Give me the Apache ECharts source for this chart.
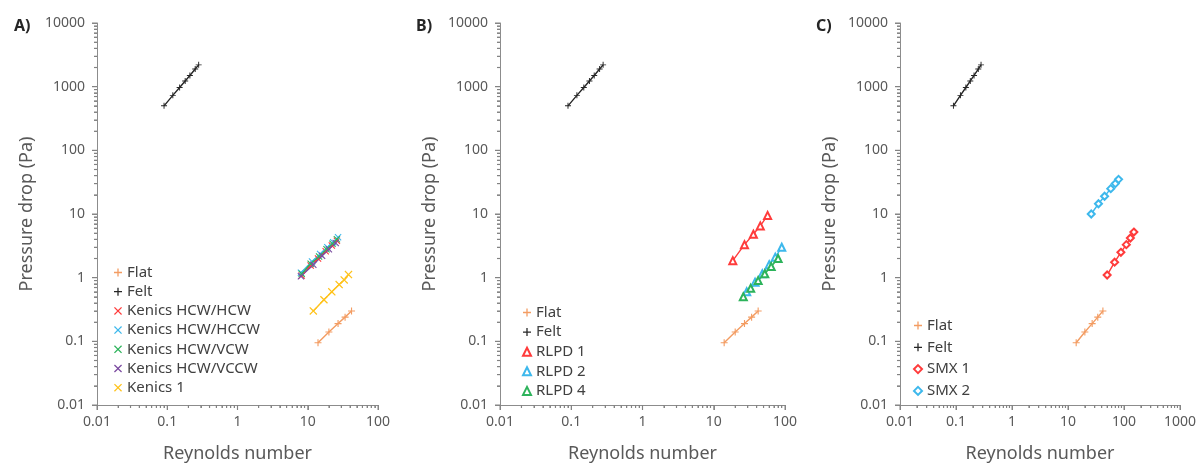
<!DOCTYPE html>
<html><head><meta charset="utf-8">
<script src="https://cdn.jsdelivr.net/npm/echarts@6/dist/echarts.min.js"></script>
<style>html,body{margin:0;padding:0;background:#fff}#c{width:1199px;height:464px}</style>
</head><body><div id="c"></div>
<script>
// ---- Data ----
const flatX = [14, 20, 27, 34, 42];
const flatY = [0.095, 0.14, 0.19, 0.24, 0.30];
const feltX = [0.09, 0.12, 0.15, 0.18, 0.21, 0.25, 0.28];
const feltY = [500, 730, 970, 1230, 1500, 1890, 2200];
const kHcwHcwX = [8.2, 11, 14, 18, 22, 26];
const kHcwHcwY = [1.08, 1.55, 2.0, 2.6, 3.2, 3.8];
const kHcwHccwX = [8, 11.5, 15, 19, 23, 27];
const kHcwHccwY = [1.2, 1.8, 2.35, 3.0, 3.6, 4.3];
const kHcwVcwX = [8.2, 11, 14.5, 18.5, 22.5, 26];
const kHcwVcwY = [1.15, 1.65, 2.15, 2.8, 3.4, 4.0];
const kHcwVccwX = [8, 12, 16, 20, 25];
const kHcwVccwY = [1.05, 1.6, 2.2, 2.8, 3.5];
const kenics1X = [12, 17, 22, 28, 33, 38];
const kenics1Y = [0.30, 0.45, 0.60, 0.78, 0.92, 1.12];
const rlpd1X = [18.5, 27, 36, 45, 57];
const rlpd1Y = [1.85, 3.3, 4.8, 6.5, 9.5];
const rlpd2X = [29, 38, 48, 60, 73, 90];
const rlpd2Y = [0.6, 0.85, 1.15, 1.6, 2.1, 3.0];
const rlpd4X = [26, 33, 42, 52, 64, 80];
const rlpd4Y = [0.5, 0.68, 0.9, 1.15, 1.5, 2.0];
const smx1X = [50, 68, 88, 110, 130, 150];
const smx1Y = [1.1, 1.75, 2.5, 3.3, 4.2, 5.2];
const smx2X = [26, 35, 45, 58, 70, 80];
const smx2Y = [10, 14.5, 19, 25, 30, 35];
const panelLabels = ['A)', 'B)', 'C)'];
const xMaxes = [100, 100, 1000];
const yMin = 0.01, yMax = 10000, xMin = 0.01;

// ---- Styling ----
const C = {flat:'#F39C62', felt:'#262626', red:'#FF3B3B', cyan:'#3DB8EC', green:'#2DB35B', purple:'#7B4BA0', yellow:'#FFC21A'};
const AX = '#8C8C8C';
const TK = '#7F7F7F';
const PLUS = 'path://M4.2,0H5.8V4.2H10V5.8H5.8V10H4.2V5.8H0V4.2H4.2Z';
const CROSS = 'path://M1.1,0L5,3.9L8.9,0L10,1.1L6.1,5L10,8.9L8.9,10L5,6.1L1.1,10L0,8.9L3.9,5L0,1.1Z';
const grids = [
  {left:97, top:23, width:281, height:382, outerBoundsMode:'none'},
  {left:500, top:23, width:285, height:382, outerBoundsMode:'none'},
  {left:900, top:23, width:280, height:382, outerBoundsMode:'none'}
];
const font = '"Noto Sans", "Open Sans", sans-serif';
const fmt = v => String(Number(Number(v).toPrecision(4)));

function zip(xs, ys){ return xs.map((x,i)=>[x, ys[i]]); }
function mk(name, xs, ys, color, symbol, size, g){
  const empty = symbol.indexOf('empty') === 0;
  return {
    type:'line', name, xAxisIndex:g, yAxisIndex:g, data:zip(xs, ys),
    symbol, symbolSize:size, showAllSymbol:true,
    lineStyle:{color, width:1.4},
    itemStyle: empty ? {color, borderColor:color, borderWidth:1} : {color, borderWidth:0},
    emphasis:{disabled:true}, animation:false, z:3
  };
}
// tick positions on a log axis: majors at powers of ten, minors at 2..9 x 10^k
function logTicks(lo, hi, minor){
  const out = [];
  const e0 = Math.round(Math.log10(lo)), e1 = Math.round(Math.log10(hi));
  for (let e = e0; e <= e1; e++) {
    if (!minor) out.push(Number(Math.pow(10, e).toPrecision(3)));
    else if (e < e1) for (let m = 2; m <= 9; m++) out.push(Number((m*Math.pow(10,e)).toPrecision(3)));
  }
  return out;
}
function tickSeries(g){
  const base = {type:'scatter', xAxisIndex:g, yAxisIndex:g, clip:false, symbol:'rect',
    itemStyle:{color:TK}, z:5, animation:false, emphasis:{disabled:true}, tooltip:{show:false}};
  const out = [];
  [[false, 5], [true, 3]].forEach(([minor, L]) => {
    out.push(Object.assign({}, base, {data:logTicks(xMin, xMaxes[g], minor).map(v=>[v, yMin]),
      symbolSize:[1.2, L], symbolOffset:[0, L/2]}));
    out.push(Object.assign({}, base, {data:logTicks(yMin, yMax, minor).map(v=>[xMin, v]),
      symbolSize:[L, 1.2], symbolOffset:[-L/2, 0]}));
  });
  return out;
}

const series = [
  mk('Flat', flatX, flatY, C.flat, PLUS, 7, 0),
  mk('Felt', feltX, feltY, C.felt, PLUS, 6, 0),
  mk('Kenics HCW/HCW', kHcwHcwX, kHcwHcwY, C.red, CROSS, 7, 0),
  mk('Kenics HCW/HCCW', kHcwHccwX, kHcwHccwY, C.cyan, CROSS, 7, 0),
  mk('Kenics HCW/VCW', kHcwVcwX, kHcwVcwY, C.green, CROSS, 7, 0),
  mk('Kenics HCW/VCCW', kHcwVccwX, kHcwVccwY, C.purple, CROSS, 7, 0),
  mk('Kenics 1', kenics1X, kenics1Y, C.yellow, CROSS, 8, 0),
  mk('Flat', flatX, flatY, C.flat, PLUS, 7, 1),
  mk('Felt', feltX, feltY, C.felt, PLUS, 6, 1),
  mk('RLPD 1', rlpd1X, rlpd1Y, C.red, 'emptyTriangle', 7, 1),
  mk('RLPD 2', rlpd2X, rlpd2Y, C.cyan, 'emptyTriangle', 7, 1),
  mk('RLPD 4', rlpd4X, rlpd4Y, C.green, 'emptyTriangle', 7, 1),
  mk('Flat', flatX, flatY, C.flat, PLUS, 7, 2),
  mk('Felt', feltX, feltY, C.felt, PLUS, 6, 2),
  mk('SMX 1', smx1X, smx1Y, C.red, 'emptyDiamond', 7, 2),
  mk('SMX 2', smx2X, smx2Y, C.cyan, 'emptyDiamond', 7, 2)
].concat(tickSeries(0), tickSeries(1), tickSeries(2));

function axisCommon(){
  return {
    type:'log',
    axisLine:{show:true, onZero:false, lineStyle:{color:AX}},
    axisTick:{show:true, length:5},
    minorTick:{show:true, splitNumber:9, length:3},
    splitLine:{show:false},
    axisLabel:{color:'#595959', fontSize:14, fontFamily:font, formatter:fmt},
    nameLocation:'middle',
    nameTextStyle:{color:'#595959', fontSize:18, fontFamily:font}
  };
}
const xAxes = [0,1,2].map(g => Object.assign(axisCommon(), {
  gridIndex:g, min:xMin, max:xMaxes[g], name:'Reynolds number', nameGap:40,
  axisLabel:Object.assign(axisCommon().axisLabel, {margin:10})
}));
const yAxes = [0,1,2].map(g => Object.assign(axisCommon(), {
  gridIndex:g, min:yMin, max:yMax, name:'Pressure drop (Pa)', nameGap:61,
  axisLabel:Object.assign(axisCommon().axisLabel, {margin:12})
}));

function legend(names, icons, left, top, gap){
  return {
    orient:'vertical', left, top, itemGap:gap, itemWidth:8, itemHeight:8,
    textStyle:{color:'#404040', fontSize:15, fontFamily:font},
    data:names.map((n,i)=>({name:n, icon:icons[i]})),
    selectedMode:false
  };
}
const option = {
  animation:false,
  title: panelLabels.map((t,i)=>({text:t, left:[9,411,811][i], top:13,
    textStyle:{fontSize:16, fontWeight:'bold', color:'#262626', fontFamily:font}})),
  grid: grids,
  xAxis: xAxes,
  yAxis: yAxes,
  legend: [
    legend(['Flat','Felt','Kenics HCW/HCW','Kenics HCW/HCCW','Kenics HCW/VCW','Kenics HCW/VCCW','Kenics 1'],
      [PLUS, PLUS, CROSS, CROSS, CROSS, CROSS, CROSS], 109, 260, 4.2),
    legend(['Flat','Felt','RLPD 1','RLPD 2','RLPD 4'],
      [PLUS, PLUS, 'emptyTriangle','emptyTriangle','emptyTriangle'], 517, 300, 4.6),
    legend(['Flat','Felt','SMX 1','SMX 2'],
      [PLUS, PLUS, 'emptyDiamond','emptyDiamond'], 908, 313, 6.8)
  ],
  series
};
const chart = echarts.init(document.getElementById('c'), null, {renderer:'canvas'});
chart.setOption(option);
</script></body></html>
